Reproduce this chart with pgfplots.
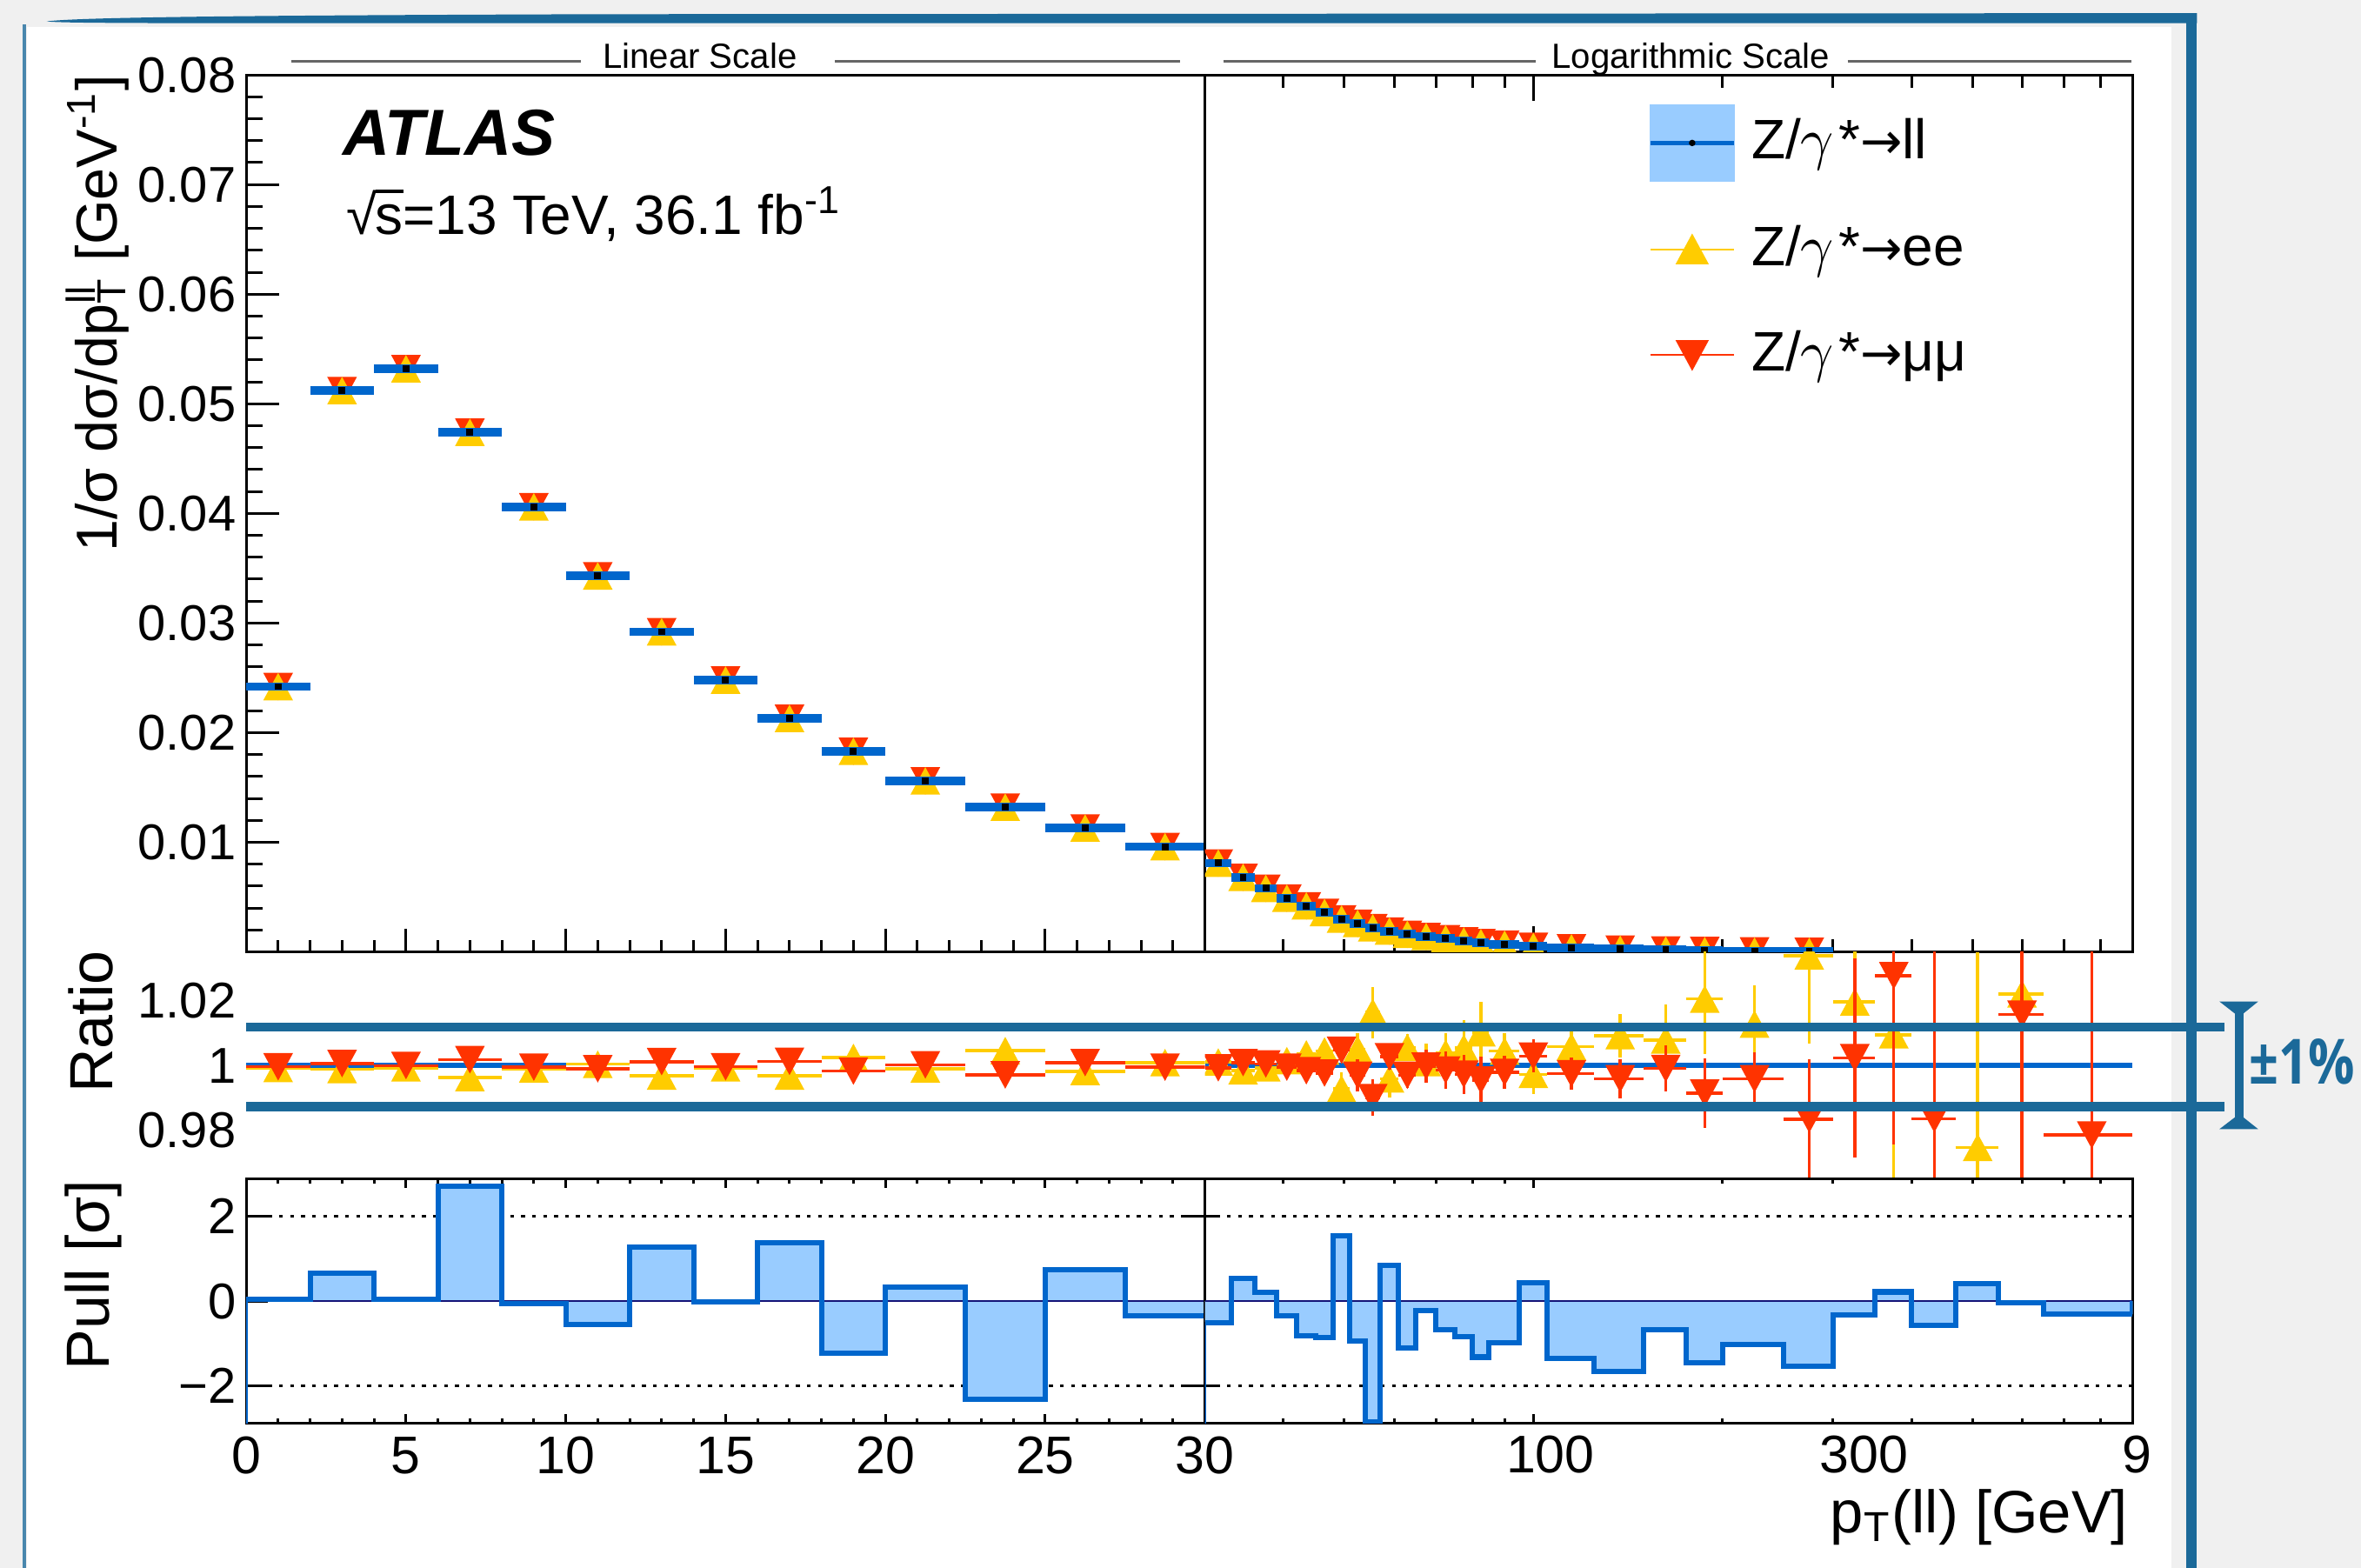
\documentclass[border=0pt]{standalone}
\usepackage{fontspec}
\setmainfont{Liberation Sans}
\newfontfamily\opensans{Open Sans}
\newfontfamily\dejavu{DejaVu Sans}
\usepackage{graphicx}
\usepackage{pgfplots}
\usepackage{pgfplotstable}
\pgfplotsset{compat=1.18}
\usepgfplotslibrary{fillbetween}
\definecolor{frameblue}{RGB}{27,105,153}
\definecolor{lb}{RGB}{153,204,255}
\definecolor{db}{RGB}{0,102,204}
\definecolor{yel}{RGB}{255,204,0}
\definecolor{rd}{RGB}{255,51,0}
\definecolor{bggray}{RGB}{240,240,240}
\definecolor{navy0}{RGB}{20,20,120}
\definecolor{hdrgray}{RGB}{102,102,102}

\newcommand{\arr}{{\dejavu\fontsize{9.5}{10}\selectfont →}}
\newcommand{\gam}{\ensuremath{\gamma}}

\pgfdeclareplotmark{tup}{%
  \pgfpathmoveto{\pgfqpoint{0pt}{\pgfplotmarksize}}%
  \pgfpathlineto{\pgfqpoint{1.08\pgfplotmarksize}{-\pgfplotmarksize}}%
  \pgfpathlineto{\pgfqpoint{-1.08\pgfplotmarksize}{-\pgfplotmarksize}}%
  \pgfpathclose\pgfusepathqfill}
\pgfdeclareplotmark{tdn}{%
  \pgfpathmoveto{\pgfqpoint{0pt}{-\pgfplotmarksize}}%
  \pgfpathlineto{\pgfqpoint{1.08\pgfplotmarksize}{\pgfplotmarksize}}%
  \pgfpathlineto{\pgfqpoint{-1.08\pgfplotmarksize}{\pgfplotmarksize}}%
  \pgfpathclose\pgfusepathqfill}

\pgfplotsset{
  zbase/.style={scale only axis, anchor=north west, tick align=inside,
    scaled x ticks=false, scaled y ticks=false,
    axis line style={line width=0.5pt}, tick style={line width=0.5pt, black},
    clip marker paths=true, xticklabels={}, yticklabels={},
    yticklabel style={font=\fontsize{9.5}{10}\selectfont, inner sep=0pt, xshift=-0.061cm},
    xticklabel style={font=\fontsize{10}{11}\selectfont, inner sep=0pt, yshift=-0.084cm},
    major grid style={black, line width=0.55pt, dash pattern=on 0.025cm off 0.048cm}},
  zlin/.style={zbase, width=6.364cm, xmin=0, xmax=30, xtick={0,5,10,15,20,25,30}, minor x tick num=4},
  zlg/.style={zbase, width=6.157cm, xmin=30, xmax=900, xtick={100},
    minor xtick={40,50,60,70,80,90,200,300,400,500,600,700,800}},
  zmk/.style={only marks, mark size=2.6pt},
  zeb/.style={error bars/.cd, y dir=both, y explicit, error bar style={line width=0.02cm}, error mark=none}
}

% ---------- data ----------
\pgfplotstableread{
c v
1 0.0242
3 0.0512
5 0.0532
7 0.0474
9 0.0406
11 0.0343
13 0.0292
15 0.0248
17 0.0213
19 0.0183
21.25 0.0156
23.75 0.0132
26.25 0.0113
28.75 0.0096
}\llLinTop
\pgfplotstableread{
c v
31.5 0.0081
34.5 0.0068
37.5 0.0058
40.5 0.0049
43.5 0.0042
46.5 0.0036
49.5 0.0030
52.5 0.0026
55.5 0.0022
59 0.0019
63 0.0016
67.5 0.0014
72.5 0.0012
77.5 0.0010
82.5 0.00085
90 0.0007
100 0.0005
115 0.00037
137.5 0.00025
162.5 0.00017
187.5 0.00012
225 0.00008
275 0.00005
}\llLogTop
\pgfplotstableread{
c r e
1 0.9991 0.0010
3 0.9988 0.0010
5 0.9993 0.0010
7 0.9963 0.0010
9 0.9990 0.0010
11 1.0004 0.0010
13 0.9968 0.0010
15 0.9993 0.0010
17 0.9968 0.0010
19 1.0025 0.0010
21.25 0.9990 0.0010
23.75 1.0046 0.0010
26.25 0.9982 0.0010
28.75 1.0009 0.0010
}\eeLin
\pgfplotstableread{
c r e
1 0.9996 0.0010
3 1.0006 0.0010
5 1.0000 0.0010
7 1.0018 0.0010
9 0.9995 0.0010
11 0.9990 0.0010
13 1.0012 0.0010
15 0.9996 0.0010
17 1.0013 0.0010
19 0.9983 0.0010
21.25 1.0002 0.0010
23.75 0.9971 0.0010
26.25 1.0009 0.0010
28.75 0.9995 0.0010
}\mmLin
\pgfplotstableread{
c r e
31.5 1.0011 0.0012
34.5 0.9984 0.0013
37.5 0.9993 0.0014
40.5 1.0015 0.0015
43.5 1.0036 0.0017
46.5 1.0045 0.0019
49.5 0.9928 0.0052
52.5 1.0050 0.0050
55.5 1.0164 0.0079
59 0.9959 0.0057
63 1.0056 0.0040
67.5 1.0009 0.0060
72.5 1.0038 0.0061
77.5 1.0054 0.0086
82.5 1.0101 0.0095
90 1.0045 0.0055
100 0.9973 0.0060
115 1.0058 0.0060
137.5 1.0092 0.0068
162.5 1.0079 0.0110
187.5 1.0205 0.0170
225 1.0128 0.0120
275 1.0338 0.0270
325 1.0196 0.0300
375 1.0095 0.0500
510 0.9748 0.0600
600 1.0221 0.0600
}\eeLog
\pgfplotstableread{
c r e
31.5 0.9993 0.0012
34.5 1.0009 0.0012
37.5 1.0005 0.0013
40.5 0.9995 0.0014
43.5 0.9984 0.0016
46.5 0.9977 0.0018
49.5 1.0047 0.0030
52.5 0.9970 0.0050
55.5 0.9901 0.0056
59 1.0027 0.0040
63 0.9970 0.0040
67.5 0.9998 0.0050
72.5 0.9986 0.0057
77.5 0.9973 0.0060
82.5 0.9955 0.0072
90 0.9979 0.0050
100 1.0029 0.0051
115 0.9975 0.0050
137.5 0.9959 0.0060
162.5 0.9991 0.0072
187.5 0.9915 0.0108
225 0.9959 0.0082
275 0.9835 0.0185
325 1.0024 0.0306
375 1.0277 0.0520
435 0.9836 0.0600
600 1.0158 0.0600
775 0.9786 0.0600
}\mmLog

\begin{document}
\begin{tikzpicture}
% ---------- background / frame ----------
\begin{scope}[x=0.01cm,y=-0.01cm]
\fill[bggray] (0,0) rectangle (1568,1041);
\fill[white] (18,18) rectangle (1442,1041);
\end{scope}

% ================= TOP LEFT =================
\begin{axis}[zlin, at={(1.634cm,-0.497cm)}, height=5.821cm, ymin=0, ymax=0.08,
  ytick={0,0.01,0.02,0.03,0.04,0.05,0.06,0.07,0.08},
  yticklabels={,0.01,0.02,0.03,0.04,0.05,0.06,0.07,0.08}, minor y tick num=4,
  xtick pos=left, ytick pos=left,
  xtick style={/pgfplots/major tick length=0.155cm, /pgfplots/minor tick length=0.077cm},
  ytick style={/pgfplots/major tick length=0.22cm, /pgfplots/minor tick length=0.11cm},
  legend style={at={(1.4621,0.9663)}, anchor=north west, draw=none, fill=none, inner sep=0pt,
    outer sep=0pt, row sep=0.203cm, column sep=0.10cm, font=\fontsize{10.5}{12}\selectfont,
    nodes={inner sep=0pt}},
  legend cell align=left]
\addlegendimage{legend image code/.code={
  \fill[lb] (0cm,-0.2485cm) rectangle (0.553cm,0.2485cm);
  \draw[db,line width=0.033cm] (0cm,0cm)--(0.553cm,0cm);
  \fill[black] (0.2765cm,0cm) circle[radius=0.014cm];}}
\addlegendentry{Z/\gam\kern0.08em*\arr ll}
\addlegendimage{legend image code/.code={
  \path[draw=none,fill=none] (0cm,-0.2485cm) rectangle (0.553cm,0.2485cm);
  \draw[yel,line width=0.012cm] (0cm,0cm)--(0.553cm,0cm);
  \fill[yel] (0.2765cm,0.0915cm)--(0.3755cm,-0.0915cm)--(0.1775cm,-0.0915cm)--cycle;}}
\addlegendentry{Z/\gam\kern0.08em*\arr ee}
\addlegendimage{legend image code/.code={
  \path[draw=none,fill=none] (0cm,-0.2485cm) rectangle (0.553cm,0.2485cm);
  \draw[rd,line width=0.012cm] (0cm,0cm)--(0.553cm,0cm);
  \fill[rd] (0.2765cm,-0.0915cm)--(0.3755cm,0.0915cm)--(0.1775cm,0.0915cm)--cycle;}}
\addlegendentry{Z/\gam\kern0.08em*\arr μμ}
\addplot[rd, zmk, mark=tdn] table[x=c,y=v] {\llLinTop};
\addplot[yel, zmk, mark=tup] table[x=c,y=v] {\llLinTop};
\addplot[db, line width=0.057cm, unbounded coords=jump] table[row sep=\\] {x y\\
0 0.0242\\ 2 0.0242\\ nan nan\\ 2 0.0512\\ 4 0.0512\\ nan nan\\ 4 0.0532\\ 6 0.0532\\ nan nan\\
6 0.0474\\ 8 0.0474\\ nan nan\\ 8 0.0406\\ 10 0.0406\\ nan nan\\ 10 0.0343\\ 12 0.0343\\ nan nan\\
12 0.0292\\ 14 0.0292\\ nan nan\\ 14 0.0248\\ 16 0.0248\\ nan nan\\ 16 0.0213\\ 18 0.0213\\ nan nan\\
18 0.0183\\ 20 0.0183\\ nan nan\\ 20 0.0156\\ 22.5 0.0156\\ nan nan\\ 22.5 0.0132\\ 25 0.0132\\ nan nan\\
25 0.0113\\ 27.5 0.0113\\ nan nan\\ 27.5 0.0096\\ 30 0.0096\\};
\addplot[black, only marks, mark=square*, mark size=0.45pt] table[x=c,y=v] {\llLinTop};
\end{axis}

% ================= TOP RIGHT =================
\begin{axis}[xmode=log, zlg, at={(7.998cm,-0.497cm)}, height=5.821cm, ymin=0, ymax=0.08, ytick=\empty,
  xtick pos=both,
  xtick style={/pgfplots/major tick length=0.17cm, /pgfplots/minor tick length=0.085cm}]
\addplot[rd, zmk, mark=tdn] table[x=c,y=v] {\llLogTop};
\addplot[yel, zmk, mark=tup] table[x=c,y=v] {\llLogTop};
\addplot[db, line width=0.057cm, unbounded coords=jump] table[row sep=\\] {x y\\
30 0.0081\\ 33 0.0081\\ nan nan\\ 33 0.0068\\ 36 0.0068\\ nan nan\\ 36 0.0058\\ 39 0.0058\\ nan nan\\
39 0.0049\\ 42 0.0049\\ nan nan\\ 42 0.0042\\ 45 0.0042\\ nan nan\\ 45 0.0036\\ 48 0.0036\\ nan nan\\
48 0.0030\\ 51 0.0030\\ nan nan\\ 51 0.0026\\ 54 0.0026\\ nan nan\\ 54 0.0022\\ 57 0.0022\\ nan nan\\
57 0.0019\\ 61 0.0019\\ nan nan\\ 61 0.0016\\ 65 0.0016\\ nan nan\\ 65 0.0014\\ 70 0.0014\\ nan nan\\
70 0.0012\\ 75 0.0012\\ nan nan\\ 75 0.0010\\ 80 0.0010\\ nan nan\\ 80 0.00085\\ 85 0.00085\\ nan nan\\
85 0.0007\\ 95 0.0007\\ nan nan\\ 95 0.0005\\ 105 0.0005\\ nan nan\\ 105 0.00037\\ 125 0.00037\\ nan nan\\
125 0.00025\\ 150 0.00025\\ nan nan\\ 150 0.00017\\ 175 0.00017\\ nan nan\\ 175 0.00012\\ 200 0.00012\\ nan nan\\
200 0.00008\\ 250 0.00008\\ nan nan\\ 250 0.00005\\ 300 0.00005\\};
\addplot[black, only marks, mark=square*, mark size=0.45pt] table[x=c,y=v] {\llLogTop};
\end{axis}

% ================= RATIO LEFT =================
\begin{axis}[zlin, at={(1.634cm,-6.318cm)}, height=1.508cm, ymin=0.965, ymax=1.035,
  ytick={0.98,1.02}, yticklabels={0.98,1.02}, extra y ticks={1}, extra y tick labels={1},
  extra y tick style={grid=none}, ymajorgrids, xtick pos=both, ytick pos=both,
  xtick style={/pgfplots/major tick length=0.05cm, /pgfplots/minor tick length=0.027cm},
  ytick style={/pgfplots/major tick length=0.24cm}]
\addplot[name path=bu, const plot, draw=none] table[row sep=\\] {x y\\
0 1.0027\\ 2 1.0011\\ 4 1.0011\\ 6 1.0011\\ 8 1.0011\\ 10 1.0018\\ 12 1.0018\\ 14 1.0018\\ 16 1.0018\\
18 1.0018\\ 20 1.0018\\ 22.5 1.0018\\ 25 1.0018\\ 27.5 1.0018\\ 30 1.0018\\};
\addplot[name path=bl, const plot, draw=none] table[row sep=\\] {x y\\
0 0.9973\\ 2 0.9989\\ 4 0.9989\\ 6 0.9989\\ 8 0.9989\\ 10 0.9982\\ 12 0.9982\\ 14 0.9982\\ 16 0.9982\\
18 0.9982\\ 20 0.9982\\ 22.5 0.9982\\ 25 0.9982\\ 27.5 0.9982\\ 30 0.9982\\};
\addplot[fill=lb, draw=none] fill between[of=bu and bl];
\addplot[db, line width=0.033cm] coordinates {(0,1) (10,1)};
\addplot[yel, line width=0.02cm, unbounded coords=jump] table[row sep=\\] {x y\\
0 0.9991\\ 2 0.9991\\ nan nan\\ 2 0.9988\\ 4 0.9988\\ nan nan\\ 4 0.9993\\ 6 0.9993\\ nan nan\\
6 0.9963\\ 8 0.9963\\ nan nan\\ 8 0.9990\\ 10 0.9990\\ nan nan\\ 10 1.0004\\ 12 1.0004\\ nan nan\\
12 0.9968\\ 14 0.9968\\ nan nan\\ 14 0.9993\\ 16 0.9993\\ nan nan\\ 16 0.9968\\ 18 0.9968\\ nan nan\\
18 1.0025\\ 20 1.0025\\ nan nan\\ 20 0.9990\\ 22.5 0.9990\\ nan nan\\ 22.5 1.0046\\ 25 1.0046\\ nan nan\\
25 0.9982\\ 27.5 0.9982\\ nan nan\\ 27.5 1.0009\\ 30 1.0009\\};
\addplot[yel, zmk, mark=tup, zeb] table[x=c,y=r,y error=e] {\eeLin};
\addplot[rd, line width=0.02cm, unbounded coords=jump] table[row sep=\\] {x y\\
0 0.9996\\ 2 0.9996\\ nan nan\\ 2 1.0006\\ 4 1.0006\\ nan nan\\ 4 1.0000\\ 6 1.0000\\ nan nan\\
6 1.0018\\ 8 1.0018\\ nan nan\\ 8 0.9995\\ 10 0.9995\\ nan nan\\ 10 0.9990\\ 12 0.9990\\ nan nan\\
12 1.0012\\ 14 1.0012\\ nan nan\\ 14 0.9996\\ 16 0.9996\\ nan nan\\ 16 1.0013\\ 18 1.0013\\ nan nan\\
18 0.9983\\ 20 0.9983\\ nan nan\\ 20 1.0002\\ 22.5 1.0002\\ nan nan\\ 22.5 0.9971\\ 25 0.9971\\ nan nan\\
25 1.0009\\ 27.5 1.0009\\ nan nan\\ 27.5 0.9995\\ 30 0.9995\\};
\addplot[rd, zmk, mark=tdn, zeb] table[x=c,y=r,y error=e] {\mmLin};
\end{axis}

% ================= RATIO RIGHT =================
\begin{axis}[xmode=log, zlg, at={(7.998cm,-6.318cm)}, height=1.508cm, ymin=0.965, ymax=1.035,
  ytick={0.98,1.02}, extra y ticks={1}, extra y tick labels={}, extra y tick style={grid=none}, ymajorgrids,
  xtick pos=both, ytick pos=left,
  xtick style={/pgfplots/major tick length=0.05cm, /pgfplots/minor tick length=0.027cm},
  ytick style={/pgfplots/major tick length=0.12cm}]
\addplot[name path=ru, const plot, draw=none] table[row sep=\\] {x y\\
30 1.0018\\ 33 1.0018\\ 36 1.0018\\ 39 1.0018\\ 42 1.0019\\ 45 1.0020\\ 48 1.0022\\ 51 1.0025\\ 54 1.0027\\
57 1.0030\\ 61 1.0032\\ 65 1.0034\\ 70 1.0036\\ 75 1.0040\\ 80 1.0054\\ 85 1.0045\\ 95 1.0045\\ 105 1.0030\\
125 1.0056\\ 150 1.0057\\ 175 1.0086\\ 200 1.0074\\ 250 1.0144\\ 300 1.0236\\ 350 1.05\\ 900 1.05\\};
\addplot[name path=rl, const plot, draw=none] table[row sep=\\] {x y\\
30 0.9982\\ 33 0.9982\\ 36 0.9982\\ 39 0.9982\\ 42 0.9981\\ 45 0.9980\\ 48 0.9978\\ 51 0.9975\\ 54 0.9973\\
57 0.9970\\ 61 0.9968\\ 65 0.9966\\ 70 0.9964\\ 75 0.9960\\ 80 0.9946\\ 85 0.9955\\ 95 0.9955\\ 105 0.9970\\
125 0.9944\\ 150 0.9943\\ 175 0.9914\\ 200 0.9926\\ 250 0.9856\\ 300 0.9764\\ 350 0.95\\ 900 0.95\\};
\addplot[fill=lb, draw=none] fill between[of=ru and rl];
\addplot[db, line width=0.033cm] coordinates {(30,1) (900,1)};
\addplot[yel, line width=0.02cm, unbounded coords=jump] table[row sep=\\] {x y\\
30 1.0011\\ 33 1.0011\\ nan nan\\ 33 0.9984\\ 36 0.9984\\ nan nan\\ 36 0.9993\\ 39 0.9993\\ nan nan\\
39 1.0015\\ 42 1.0015\\ nan nan\\ 42 1.0036\\ 45 1.0036\\ nan nan\\ 45 1.0045\\ 48 1.0045\\ nan nan\\
48 0.9928\\ 51 0.9928\\ nan nan\\ 51 1.0050\\ 54 1.0050\\ nan nan\\ 54 1.0164\\ 57 1.0164\\ nan nan\\
57 0.9959\\ 61 0.9959\\ nan nan\\ 61 1.0056\\ 65 1.0056\\ nan nan\\ 65 1.0009\\ 70 1.0009\\ nan nan\\
70 1.0038\\ 75 1.0038\\ nan nan\\ 75 1.0054\\ 80 1.0054\\ nan nan\\ 80 1.0101\\ 85 1.0101\\ nan nan\\
85 1.0045\\ 95 1.0045\\ nan nan\\ 95 0.9973\\ 105 0.9973\\ nan nan\\ 105 1.0058\\ 125 1.0058\\ nan nan\\
125 1.0092\\ 150 1.0092\\ nan nan\\ 150 1.0079\\ 175 1.0079\\ nan nan\\ 175 1.0205\\ 200 1.0205\\ nan nan\\
200 1.0128\\ 250 1.0128\\ nan nan\\ 250 1.0338\\ 300 1.0338\\ nan nan\\ 300 1.0196\\ 350 1.0196\\ nan nan\\
350 1.0095\\ 400 1.0095\\ nan nan\\ 470 0.9748\\ 550 0.9748\\ nan nan\\ 550 1.0221\\ 650 1.0221\\};
\addplot[yel, zmk, mark=tup, zeb] table[x=c,y=r,y error=e] {\eeLog};
\addplot[rd, line width=0.02cm, unbounded coords=jump] table[row sep=\\] {x y\\
30 0.9993\\ 33 0.9993\\ nan nan\\ 33 1.0009\\ 36 1.0009\\ nan nan\\ 36 1.0005\\ 39 1.0005\\ nan nan\\
39 0.9995\\ 42 0.9995\\ nan nan\\ 42 0.9984\\ 45 0.9984\\ nan nan\\ 45 0.9977\\ 48 0.9977\\ nan nan\\
48 1.0047\\ 51 1.0047\\ nan nan\\ 51 0.9970\\ 54 0.9970\\ nan nan\\ 54 0.9901\\ 57 0.9901\\ nan nan\\
57 1.0027\\ 61 1.0027\\ nan nan\\ 61 0.9970\\ 65 0.9970\\ nan nan\\ 65 0.9998\\ 70 0.9998\\ nan nan\\
70 0.9986\\ 75 0.9986\\ nan nan\\ 75 0.9973\\ 80 0.9973\\ nan nan\\ 80 0.9955\\ 85 0.9955\\ nan nan\\
85 0.9979\\ 95 0.9979\\ nan nan\\ 95 1.0029\\ 105 1.0029\\ nan nan\\ 105 0.9975\\ 125 0.9975\\ nan nan\\
125 0.9959\\ 150 0.9959\\ nan nan\\ 150 0.9991\\ 175 0.9991\\ nan nan\\ 175 0.9915\\ 200 0.9915\\ nan nan\\
200 0.9959\\ 250 0.9959\\ nan nan\\ 250 0.9835\\ 300 0.9835\\ nan nan\\ 300 1.0024\\ 350 1.0024\\ nan nan\\
350 1.0277\\ 400 1.0277\\ nan nan\\ 400 0.9836\\ 470 0.9836\\ nan nan\\ 550 1.0158\\ 650 1.0158\\ nan nan\\
650 0.9786\\ 900 0.9786\\};
\addplot[rd, zmk, mark=tdn, zeb] table[x=c,y=r,y error=e] {\mmLog};
\end{axis}

% ================= PULL LEFT =================
\begin{axis}[zlin, at={(1.634cm,-7.826cm)}, height=1.62cm, ymin=-2.88, ymax=2.88,
  ytick={-2,2}, yticklabels={−2,2}, extra y ticks={0}, extra y tick labels={0},
  extra y tick style={grid=none}, ymajorgrids,
  xticklabels={0,5,10,15,20,25,30}, xtick pos=both, ytick pos=both,
  xticklabel pos=left,
  xtick style={/pgfplots/major tick length=0.06cm, /pgfplots/minor tick length=0.03cm},
  ytick style={/pgfplots/major tick length=0.144cm}]
\addplot[const plot, fill=lb, draw=none] table[row sep=\\] {x y\\
0 0.04\\ 2 0.67\\ 4 0.05\\ 6 2.72\\ 8 -0.05\\ 10 -0.55\\ 12 1.28\\ 14 -0.02\\ 16 1.37\\ 18 -1.22\\
20 0.33\\ 22.5 -2.31\\ 25 0.75\\ 27.5 -0.35\\ 30 -0.35\\} \closedcycle;
\addplot[navy0, line width=0.4pt] coordinates {(0,0) (30,0)};
\addplot[const plot, db, line width=0.035cm] table[row sep=\\] {x y\\
0 0.04\\ 2 0.67\\ 4 0.05\\ 6 2.72\\ 8 -0.05\\ 10 -0.55\\ 12 1.28\\ 14 -0.02\\ 16 1.37\\ 18 -1.22\\
20 0.33\\ 22.5 -2.31\\ 25 0.75\\ 27.5 -0.35\\ 30 -0.35\\};
\addplot[db, line width=0.02cm] coordinates {(0,0) (0,-2.88)};
\addplot[db, line width=0.02cm] coordinates {(30,-0.35) (30,-2.88)};
\end{axis}

% ================= PULL RIGHT =================
\begin{axis}[xmode=log, zlg, at={(7.998cm,-7.826cm)}, height=1.62cm, ymin=-2.88, ymax=2.88,
  ytick={-2,2}, extra y ticks={0}, extra y tick labels={}, extra y tick style={grid=none}, ymajorgrids,
  xtick pos=both, ytick pos=left,
  xtick style={/pgfplots/major tick length=0.06cm, /pgfplots/minor tick length=0.03cm},
  ytick style={/pgfplots/major tick length=0.1cm}]
\addplot[const plot, fill=lb, draw=none] table[row sep=\\] {x y\\
30 -0.50\\ 33 0.53\\ 36 0.20\\ 39 -0.35\\ 42 -0.81\\ 45 -0.85\\ 48 1.54\\ 51 -0.94\\ 54 -2.85\\ 57 0.85\\
61 -1.11\\ 65 -0.23\\ 70 -0.67\\ 75 -0.84\\ 80 -1.32\\ 85 -0.98\\ 95 0.44\\ 105 -1.35\\ 125 -1.65\\
150 -0.67\\ 175 -1.46\\ 200 -1.03\\ 250 -1.54\\ 300 -0.33\\ 350 0.22\\ 400 -0.58\\ 470 0.42\\
550 -0.03\\ 650 -0.31\\ 900 -0.31\\} \closedcycle;
\addplot[navy0, line width=0.4pt] coordinates {(30,0) (900,0)};
\addplot[const plot, db, line width=0.035cm] table[row sep=\\] {x y\\
30 -0.50\\ 33 0.53\\ 36 0.20\\ 39 -0.35\\ 42 -0.81\\ 45 -0.85\\ 48 1.54\\ 51 -0.94\\ 54 -2.85\\ 57 0.85\\
61 -1.11\\ 65 -0.23\\ 70 -0.67\\ 75 -0.84\\ 80 -1.32\\ 85 -0.98\\ 95 0.44\\ 105 -1.35\\ 125 -1.65\\
150 -0.67\\ 175 -1.46\\ 200 -1.03\\ 250 -1.54\\ 300 -0.33\\ 350 0.22\\ 400 -0.58\\ 470 0.42\\
550 -0.03\\ 650 -0.31\\ 900 -0.31\\};
\addplot[db, line width=0.02cm] coordinates {(30,-0.50) (30,-2.88)};
\addplot[db, line width=0.035cm] coordinates {(900,-0.31) (900,0)};
\end{axis}

% ---------- decorations ----------
\begin{scope}[x=0.01cm,y=-0.01cm]
% frame
\fill[frameblue] (1452,8.7) rectangle (1459,1041);
\fill[frameblue] (31,14.2) .. controls (50,11.6) and (150,10.2) .. (400,9.4) -- (1459,8.7)
  -- (1459,15.4) -- (200,15.4) .. controls (80,15.4) and (40,15.2) .. (31,14.2) -- cycle;
\fill[frameblue!80] (14.8,16) rectangle (17.6,1041);
% headers
\draw[hdrgray, line width=0.019cm] (193.4,40.8) -- (385.7,40.8) (554.4,40.8) -- (783.7,40.8);
\draw[hdrgray, line width=0.019cm] (812.4,40.8) -- (1020,40.8) (1227,40.8) -- (1415.5,40.8);
\node[anchor=base, inner sep=0pt, font=\fontsize{6.6}{7}\selectfont] at (464.8,45.2) {Linear Scale};
\node[anchor=base, inner sep=0pt, font=\fontsize{6.6}{7}\selectfont] at (1122.8,45.2) {Logarithmic Scale};
% ATLAS
\node[anchor=base west, inner sep=0pt, font=\fontsize{12.3}{14}\selectfont\bfseries\itshape] at (227,103) {ATLAS};
\node[anchor=base west, inner sep=0pt, font=\fontsize{10.5}{12}\selectfont] at (229.4,155.5)
  {√\kern-0.03em\makebox[0pt][l]{\rule[0.74em]{0.5em}{0.055em}}s=13 TeV, 36.1 fb\textsuperscript{-1}};
% axis titles
\node[rotate=90, anchor=base east, inner sep=0pt, font=\fontsize{10.9}{13}\selectfont] at (77.4,49)
  {1/σ dσ/dp\rlap{\textsuperscript{ll}}\textsubscript{T} [GeV\textsuperscript{-1}]};
\node[rotate=90, anchor=base east, inner sep=0pt, font=\fontsize{11.5}{13}\selectfont] at (74.8,630.6) {Ratio};
\node[rotate=90, anchor=base east, inner sep=0pt, font=\fontsize{11.5}{13}\selectfont] at (72.2,783) {Pull [σ]};
\node[anchor=base east, inner sep=0pt, font=\fontsize{11.3}{13}\selectfont] at (1414,1018)
  {p\textsubscript{T}(ll) [GeV]};
% log tick labels
\node[anchor=north, inner sep=0pt, font=\fontsize{10}{11}\selectfont] at (1029.7,953) {100};
\node[anchor=north, inner sep=0pt, font=\fontsize{10}{11}\selectfont] at (1238,953) {300};
\node[anchor=north, inner sep=0pt, font=\fontsize{10}{11}\selectfont] at (1419.5,953) {9};
% +-1% annotation
\fill[frameblue] (163.4,679.4) rectangle (1477.4,685.2);
\fill[frameblue] (163.4,732.0) rectangle (1477.4,737.8);
\fill[frameblue] (1484.3,670) rectangle (1490,745);
\fill[frameblue] (1474,665.1) -- (1499.7,665.1) -- (1487.1,675.3) -- cycle;
\fill[frameblue] (1474,749.8) -- (1499.7,749.8) -- (1487.1,739.8) -- cycle;
\node[anchor=west, inner sep=0pt, text=frameblue] at (1493,705.3)
  {\resizebox{0.70cm}{0.30cm}{\opensans\bfseries ±1\%}};
\end{scope}
\end{tikzpicture}
\end{document}
